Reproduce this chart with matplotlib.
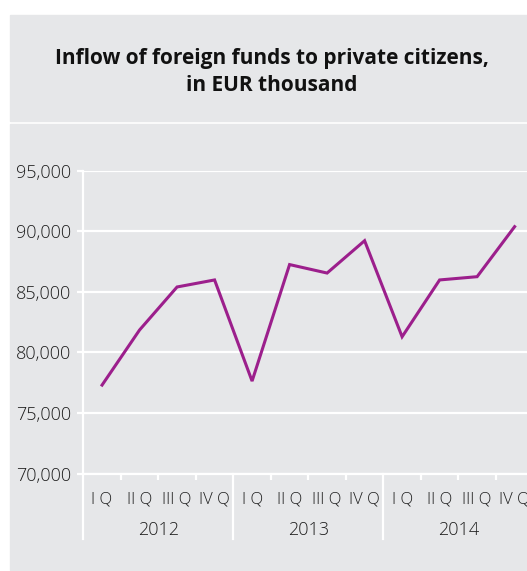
import matplotlib.pyplot as plt
from matplotlib.patches import Rectangle
from matplotlib.ticker import FuncFormatter

# quarterly inflow, EUR thousand
years = ["2012", "2013", "2014"]
quarters = ["I Q", "II Q", "III Q", "IV Q"]
inflow = [77300, 81850, 85400, 85980,
          77630, 87250, 86550, 89220,
          81290, 85980, 86250, 90380]

W, H = 527, 571
PANEL = "#e6e7e9"
LINE = "#9c1f8c"
TXT = "#1e1e1e"

plt.rcParams["font.family"] = ["Open Sans", "DejaVu Sans"]

fig = plt.figure(figsize=(W / 100, H / 100), dpi=100)
fig.patch.set_facecolor("white")


def fx(px):
    return px / W


def fy(py):
    return 1 - py / H


# title panel and chart panel
fig.patches.append(Rectangle((fx(10), fy(121)), fx(W - 10), 106 / H,
                             transform=fig.transFigure, color=PANEL, zorder=-10))
fig.patches.append(Rectangle((fx(10), fy(570)), fx(W - 10), 446 / H,
                             transform=fig.transFigure, color=PANEL, zorder=-10))

fig.text(fx(272), fy(64), "Inflow of foreign funds to private citizens,",
         ha="center", va="baseline", fontsize=15, fontweight="bold", color="#111111")
fig.text(fx(272), fy(91), "in EUR thousand",
         ha="center", va="baseline", fontsize=15, fontweight="bold", color="#111111")

left, bottom, top = 83.3, 473.5, 170.7
ax = fig.add_axes([fx(left), fy(bottom), 1 - fx(left), (bottom - top) / H])
ax.set_facecolor("none")

x = list(range(len(inflow)))
ax.plot(x, inflow, color=LINE, lw=2.2, solid_joinstyle="miter", zorder=3)

ax.set_xlim(-0.5, 11.33)
ax.set_ylim(70000, 95000)
ax.set_yticks(range(70000, 95001, 5000))
ax.yaxis.set_major_formatter(FuncFormatter(lambda v, p: f"{int(v):,}"))
ax.grid(axis="y", color="white", lw=1.6, zorder=1)
ax.set_axisbelow(True)

for s in ["top", "right"]:
    ax.spines[s].set_visible(False)
for s in ["left", "bottom"]:
    ax.spines[s].set_color("white")
    ax.spines[s].set_linewidth(1.6)

ax.tick_params(axis="y", length=4.5, width=1.6, color="white", pad=4.5,
               labelsize=13, labelcolor=TXT)
for lab in ax.get_yticklabels():
    lab.set_fontweight("light")

# small ticks between quarters, tall separators between years
ax.set_xticks([])
minor = [y * 4 + q + 0.5 for y in range(len(years)) for q in range(3)]
ax.set_xticks(minor, minor=True)
ax.tick_params(axis="x", which="minor", length=4.5, width=1.6, color="white")

ax_h = bottom - top
tr = ax.get_xaxis_transform()
for k in range(len(years) + 1):
    ax.plot([k * 4 - 0.5] * 2, [0, -65 / ax_h], transform=tr, color="white",
            lw=1.6, clip_on=False)

for i in x:
    ax.text(i, -29.5 / ax_h, quarters[i % 4], transform=tr, ha="center",
            va="baseline", fontsize=12, fontweight="light", color=TXT)
for k, yr in enumerate(years):
    ax.text(k * 4 + 1.5, -61.5 / ax_h, yr, transform=tr, ha="center",
            va="baseline", fontsize=13, fontweight="light", color=TXT)

fig.savefig("out.png", dpi=100)
